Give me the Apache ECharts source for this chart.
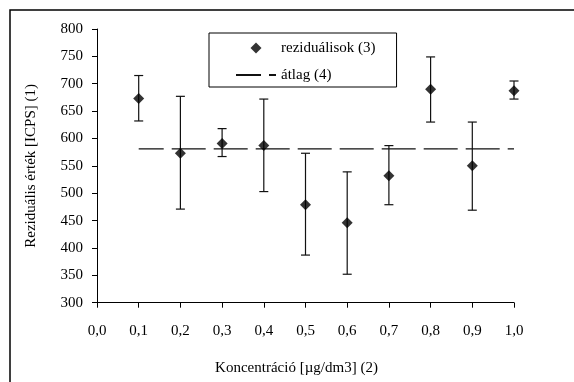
<!DOCTYPE html>
<html>
<head>
<meta charset="utf-8">
<script src="https://cdn.jsdelivr.net/npm/echarts@6/dist/echarts.min.js"></script>
<style>html,body{margin:0;padding:0;background:#fff;}#c{width:574px;height:382px;}</style>
</head>
<body>
<div id="c"></div>
<script>
var concentrations = [0.1, 0.2, 0.3, 0.4, 0.5, 0.6, 0.7, 0.8, 0.9, 1.0];
var residuals = [673, 573, 591, 587, 479, 446, 532, 690, 550, 687];
var upperValues = [715, 677, 618, 672, 573, 539, 587, 749, 630, 705];
var lowerValues = [632, 471, 567, 503, 387, 352, 479, 630, 469, 672];
var meanValue = 581;
var meanRange = [0.1, 1.0];
var seriesNames = ['reziduálisok (3)', 'átlag (4)'];
var xTitle = 'Koncentráció [µg/dm3] (2)';
var yTitle = 'Reziduális érték [ICPS] (1)';

var FONT = '"Liberation Serif", "Times New Roman", serif';
var chart = echarts.init(document.getElementById('c'), null, {renderer: 'canvas'});

var scatterData = concentrations.map(function (x, i) { return [x, residuals[i]]; });
var errData = concentrations.map(function (x, i) { return [x, lowerValues[i], upperValues[i]]; });
var meanData = meanRange.map(function (x) { return [x, meanValue]; });

chart.setOption({
  animation: false,
  backgroundColor: '#fff',
  textStyle: {fontFamily: FONT},
  graphic: [{
    type: 'rect', z: -10, silent: true,
    shape: {x: 10, y: 10, width: 700, height: 500},
    style: {fill: 'none', stroke: '#000', lineWidth: 1.5}
  }],
  grid: {left: 97, top: 29, right: 60, bottom: 79.3, containLabel: false},
  legend: {
    orient: 'vertical',
    left: 209, top: 33,
    data: [
      {name: seriesNames[0], icon: 'path://M0,-5L5,0L0,5L-5,0Z'},
      {name: seriesNames[1], itemStyle: {opacity: 0}}
    ],
    symbolKeepAspect: true,
    itemWidth: 40, itemHeight: 11, itemGap: 11,
    padding: [7, 21, 4, 26],
    borderColor: '#000', borderWidth: 1,
    backgroundColor: '#fff',
    textStyle: {fontFamily: FONT, fontSize: 15, color: '#000', lineHeight: 16}
  },
  xAxis: {
    type: 'value', min: 0, max: 1, interval: 0.1,
    name: xTitle, nameLocation: 'middle', nameGap: 58,
    nameTextStyle: {fontFamily: FONT, fontSize: 15, color: '#000', padding: [0, 18, 0, 0]},
    axisLine: {show: true, lineStyle: {color: '#000', width: 1}},
    axisTick: {show: true, inside: false, length: 5, lineStyle: {color: '#000'}},
    splitLine: {show: false},
    axisLabel: {
      margin: 21, fontFamily: FONT, fontSize: 15, color: '#000',
      formatter: function (v) { return v.toFixed(1).replace('.', ','); }
    }
  },
  yAxis: {
    type: 'value', min: 300, max: 800, interval: 50,
    name: yTitle, nameLocation: 'middle', nameGap: 58,
    nameTextStyle: {fontFamily: FONT, fontSize: 15, color: '#000'},
    axisLine: {show: true, lineStyle: {color: '#000', width: 1}},
    axisTick: {show: true, inside: false, length: 5, lineStyle: {color: '#000'}},
    splitLine: {show: false},
    axisLabel: {margin: 14, fontFamily: FONT, fontSize: 15, color: '#000'}
  },
  series: [
    {
      type: 'custom',
      name: 'err',
      data: errData,
      z: 2,
      renderItem: function (params, api) {
        var x = api.value(0);
        var lo = api.coord([x, api.value(1)]);
        var hi = api.coord([x, api.value(2)]);
        var w = 4.5;
        var st = {stroke: '#111', lineWidth: 1.2};
        return {
          type: 'group',
          children: [
            {type: 'line', shape: {x1: hi[0], y1: hi[1], x2: lo[0], y2: lo[1]}, style: st},
            {type: 'line', shape: {x1: hi[0] - w, y1: hi[1], x2: hi[0] + w, y2: hi[1]}, style: st},
            {type: 'line', shape: {x1: lo[0] - w, y1: lo[1], x2: lo[0] + w, y2: lo[1]}, style: st}
          ]
        };
      }
    },
    {
      type: 'line',
      name: seriesNames[1],
      data: meanData,
      symbol: 'none',
      z: 1,
      lineStyle: {color: '#111', width: 1.2, type: [34, 8], dashOffset: 9},
      itemStyle: {color: '#111'}
    },
    {
      type: 'scatter',
      name: seriesNames[0],
      data: scatterData,
      symbol: 'diamond',
      symbolSize: 11,
      z: 3,
      itemStyle: {color: '#000'}
    }
  ]
});
</script>
</body>
</html>
